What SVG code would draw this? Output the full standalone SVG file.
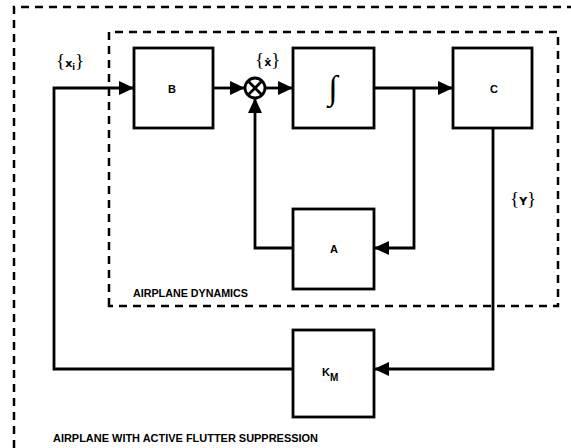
<svg xmlns="http://www.w3.org/2000/svg" width="571" height="448" viewBox="0 0 571 448">
<style>
.box{fill:#fff;stroke:#000;stroke-width:2.8}
.ln{fill:none;stroke:#000;stroke-width:2.8}
.dash{fill:none;stroke:#000;stroke-width:2.5;stroke-dasharray:8 6}
.t{font-family:"Liberation Sans",Arial,sans-serif;font-weight:bold;fill:#000}
.lab{font-family:"Liberation Sans",Arial,sans-serif;font-weight:bold;font-size:10.5px;fill:#000}
.br{font-family:"DejaVu Sans",sans-serif;font-weight:bold;fill:#000}
.b{font-family:"Liberation Serif","Times New Roman",serif;font-weight:normal;font-size:19px}
</style>
<defs>
<marker id="ah" markerWidth="15" markerHeight="14" refX="15" refY="7" orient="auto" markerUnits="userSpaceOnUse">
<path d="M0,0 L15,7 L0,14 Z" fill="#000"/>
</marker>
</defs>
<rect width="571" height="448" fill="#fff"/>
<g id="outer-boundary">
<path class="dash" d="M14,448 L14,7 L571,7"/>
</g>
<g id="airplane-dynamics-boundary">
<path class="dash" d="M109,306 L109,32 L558,32 L558,306 Z"/>
<text class="lab" x="133" y="297" textLength="115" lengthAdjust="spacingAndGlyphs">AIRPLANE DYNAMICS</text>
</g>
<g id="connectors">
<path class="ln" d="M293,369 L54,369 L54,88 L134,88" marker-end="url(#ah)"/>
<path class="ln" d="M213,88 L245,88" marker-end="url(#ah)"/>
<path class="ln" d="M265,88 L293,88" marker-end="url(#ah)"/>
<path class="ln" d="M374,88 L453,88" marker-end="url(#ah)"/>
<path class="ln" d="M414,88 L414,248 L374,248" marker-end="url(#ah)"/>
<path class="ln" d="M293,248 L255,248 L255,98" marker-end="url(#ah)"/>
<path class="ln" d="M493,128 L493,369 L374,369" marker-end="url(#ah)"/>
</g>
<g id="sum">
<circle cx="255" cy="88" r="10" fill="#fff" stroke="#000" stroke-width="2.8"/>
<path class="ln" d="M248,81 L262,95 M262,81 L248,95"/>
</g>
<g id="node-B">
<rect class="box" x="134" y="48" width="79" height="80"/>
<text class="t" x="172" y="93" font-size="11" text-anchor="middle">B</text>
</g>
<g id="node-int">
<rect class="box" x="293" y="48" width="81" height="80"/>
<text x="333" y="99" font-family="Liberation Serif,serif" font-style="italic" font-size="34" text-anchor="middle">∫</text>
</g>
<g id="node-C">
<rect class="box" x="453" y="48" width="79" height="80"/>
<text class="t" x="494" y="93" font-size="11" text-anchor="middle">C</text>
</g>
<g id="node-A">
<rect class="box" x="293" y="209" width="81" height="80"/>
<text class="t" x="334" y="253" font-size="11" text-anchor="middle">A</text>
</g>
<g id="node-KM">
<rect class="box" x="293" y="330" width="81" height="87"/>
<text class="t" x="322" y="376" font-size="11">K<tspan font-size="10" dy="5">M</tspan></text>
</g>
<g id="labels">
<text class="br" x="56" y="67" font-size="11"><tspan class="b">{</tspan>x<tspan font-size="8" dy="3">i</tspan><tspan class="b" dy="-3">}</tspan></text>
<text class="br" x="255" y="66" font-size="11"><tspan class="b">{</tspan>ẋ<tspan class="b">}</tspan></text>
<text class="br" x="510" y="205" font-size="11"><tspan class="b">{</tspan>Y<tspan class="b">}</tspan></text>
<text class="lab" x="53" y="442" textLength="265" lengthAdjust="spacingAndGlyphs">AIRPLANE  WITH ACTIVE FLUTTER SUPPRESSION</text>
</g>
</svg>
